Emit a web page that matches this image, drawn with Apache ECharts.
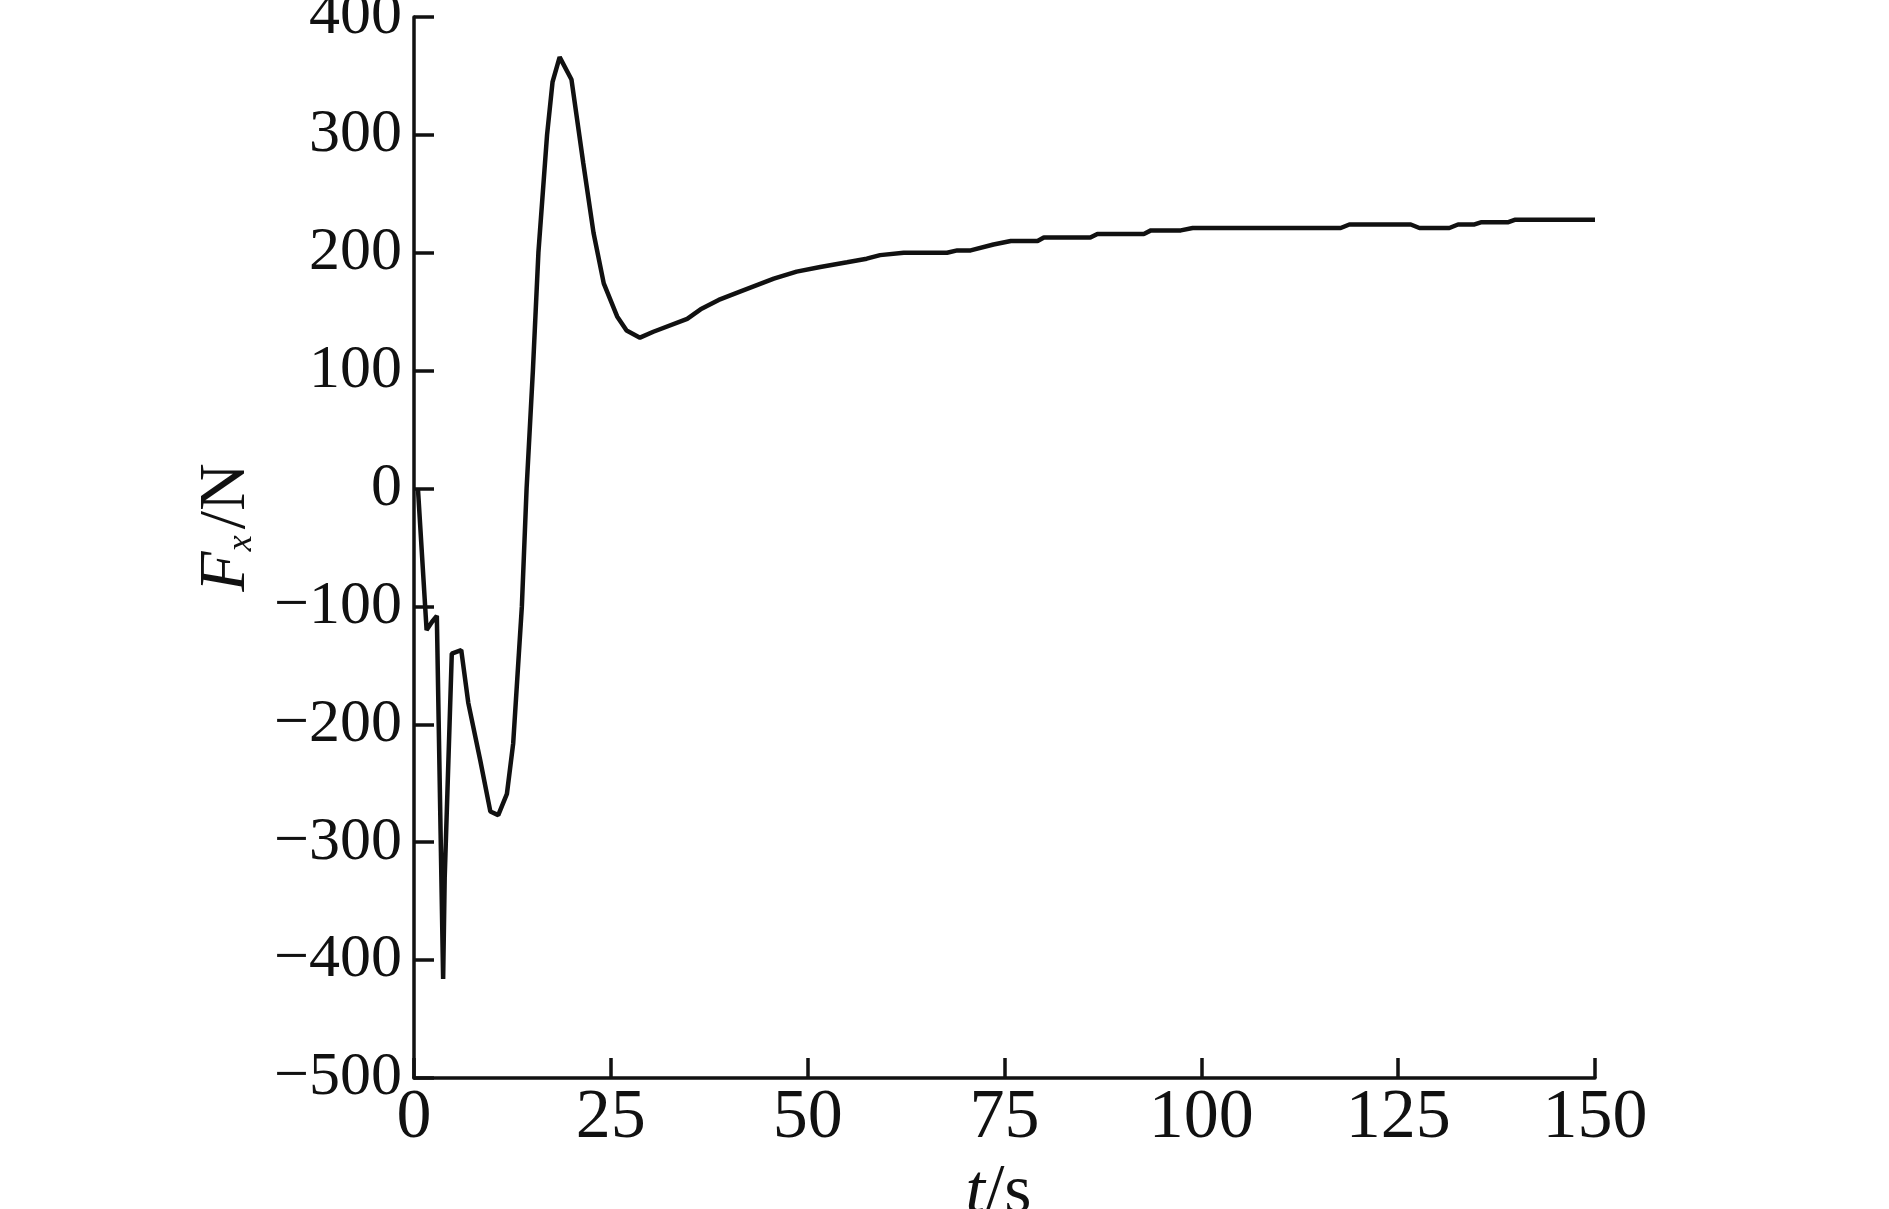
<!DOCTYPE html>
<html>
<head>
<meta charset="utf-8">
<title>Fx over time</title>
<script src="https://cdn.jsdelivr.net/npm/echarts@6/dist/echarts.min.js"></script>
<style>
  html, body { margin: 0; padding: 0; background: #fff; }
  #chart { width: 1889px; height: 1209px; }
</style>
</head>
<body>
<div id="chart"></div>
<script>
// t (s) and Fx (N)
const timeSeconds = [
  0.5, 1.6, 2.3, 2.9, 3.7, 3.9, 4.8, 6.0, 6.9, 8.4, 9.7, 10.7, 11.8, 12.6,
  13.7, 14.3, 15.1, 15.8, 16.9, 17.6, 18.5, 20.0, 21.5, 22.8, 24.1, 25.8, 27.0,
  28.7, 30.4, 34.7, 36.4, 38.7, 41.4, 45.7, 48.6, 51.6, 55.0, 57.5, 59.2, 62.2,
  67.7, 69.0, 70.7, 73.6, 75.8, 79.2, 80.0, 85.9, 86.8, 92.7, 93.6, 97.4, 98.9,
  117.7, 118.8, 126.6, 127.7, 131.5, 132.6, 134.7, 135.6, 139.0, 139.8, 150
]
const forceFx = [
  0, -120, -113, -108, -416, -330, -140, -137, -182, -230, -274, -277, -259, -216,
  -100, 0, 100, 200, 300, 345, 366, 347, 276, 217, 174, 146, 134,
  128, 133, 144, 152, 160, 167, 178, 184, 188, 192, 195, 198, 200,
  200, 202, 202, 207, 210, 210, 213, 213, 216, 216, 219, 219, 221,
  221, 224, 224, 221, 221, 224, 224, 226, 226, 228, 228
]

const xTicks = { min: 0, max: 150, interval: 25 }
const yTicks = { min: -500, max: 400, interval: 100 }

const serif = '"Liberation Serif", "Times New Roman", serif'
const ink = '#111'

const chart = echarts.init(document.getElementById('chart'))

chart.setOption({
  backgroundColor: '#fff',
  animation: false,
  grid: {
    left: 414,
    right: 294,
    top: 17,
    bottom: 131,
    containLabel: false,
    outerBoundsMode: 'none'
  },
  xAxis: {
    type: 'value',
    min: xTicks.min,
    max: xTicks.max,
    interval: xTicks.interval,
    splitLine: { show: false },
    axisLine: { onZero: false, lineStyle: { color: ink, width: 3.5 } },
    axisTick: { inside: true, length: 20, lineStyle: { color: ink, width: 3.5 } },
    axisLabel: {
      color: ink,
      fontFamily: serif,
      fontSize: 70,
      margin: 6
    },
    name: '{i|t}{n|/s}',
    nameLocation: 'middle',
    nameGap: 72,
    nameTextStyle: {
      padding: [0, 12, 0, 0],
      rich: {
        i: { fontFamily: serif, fontStyle: 'italic', fontSize: 70, color: ink },
        n: { fontFamily: serif, fontSize: 70, color: ink }
      }
    }
  },
  yAxis: {
    type: 'value',
    min: yTicks.min,
    max: yTicks.max,
    interval: yTicks.interval,
    splitLine: { show: false },
    axisLine: { onZero: false, lineStyle: { color: ink, width: 3.5 } },
    axisTick: { inside: true, length: 20, lineStyle: { color: ink, width: 3.5 } },
    axisLabel: {
      color: ink,
      fontFamily: serif,
      fontSize: 62,
      margin: 12,
      formatter: v => (v < 0 ? '\u2212' + Math.abs(v) : String(v))
    },
    name: '{i|F}{sub|x}{n|/N}',
    nameLocation: 'middle',
    nameGap: 154,
    nameTextStyle: {
      padding: [0, 0, 0, 40],
      rich: {
        i: { fontFamily: serif, fontStyle: 'italic', fontSize: 66, color: ink },
        sub: { fontFamily: serif, fontStyle: 'italic', fontSize: 36, color: ink, verticalAlign: 'bottom', padding: [0, 6, 0, 0] },
        n: { fontFamily: serif, fontSize: 66, color: ink }
      }
    }
  },
  series: [
    {
      type: 'line',
      data: timeSeconds.map((t, i) => [t, forceFx[i]]),
      showSymbol: false,
      smooth: false,
      lineStyle: { color: ink, width: 4.5 },
      clip: false
    }
  ]
})
</script>
</body>
</html>
